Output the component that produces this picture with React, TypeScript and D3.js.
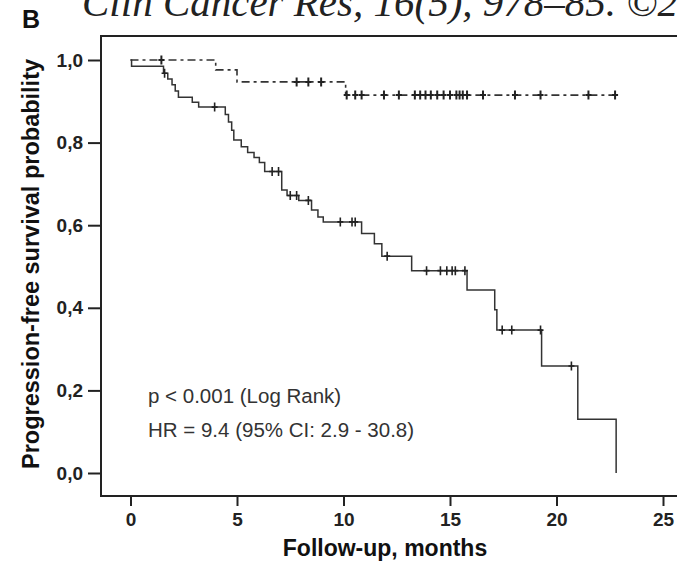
import React, { useRef, useEffect } from "react";
import * as d3 from "d3";

// survival steps (months, probability after the step)
const solidTimes = [0.05, 1.55, 1.75, 1.95, 2.1, 2.25, 2.9, 3.2, 4.45, 4.6, 4.75, 4.85, 5.2, 5.5, 5.8, 6.05, 6.3, 7.1, 7.35, 7.9, 8.5, 8.8, 9.05, 10.85, 11.45, 11.8, 13.2, 15.8, 17.1, 17.2, 19.3, 21.0, 22.8];
const solidSurv = [0.985, 0.968, 0.954, 0.94, 0.925, 0.91, 0.898, 0.886, 0.868, 0.85, 0.83, 0.806, 0.79, 0.776, 0.764, 0.752, 0.73, 0.685, 0.672, 0.66, 0.637, 0.62, 0.608, 0.58, 0.555, 0.525, 0.49, 0.443, 0.395, 0.346, 0.259, 0.13, 0.0];
const solidCensor = [1.6, 3.95, 6.65, 6.95, 7.5, 7.8, 8.35, 9.85, 10.4, 10.55, 12.05, 13.9, 14.55, 14.85, 15.1, 15.25, 15.7, 17.45, 17.9, 19.25, 20.7];

const dashedTimes = [4.0, 5.0, 10.1];
const dashedSurv = [0.976, 0.947, 0.915];
const dashedCensor = [1.45, 7.8, 8.35, 8.95, 10.15, 10.55, 10.85, 11.9, 12.6, 13.35, 13.6, 13.85, 14.1, 14.4, 14.7, 15.0, 15.3, 15.45, 15.6, 15.8, 16.55, 18.05, 19.25, 21.5, 22.75];

const xTicks = [0, 5, 10, 15, 20, 25];
const yTicks = [0, 0.2, 0.4, 0.6, 0.8, 1.0];

const survAt = (times: number[], surv: number[], t: number) => {
  let s = 1;
  times.forEach((tt, i) => {
    if (tt <= t) s = surv[i];
  });
  return s;
};

const App = () => {
  const svgRef = useRef<SVGSVGElement>(null);

  useEffect(() => {
    const svg = d3.select(svgRef.current);
    svg.selectAll("*").remove();

    const width = 677;
    const height = 565;
    const frame = { left: 101, top: 36, bottom: 496, right: 700 };

    const x = d3.scaleLinear().domain([0, 25]).range([130.5, 663]);
    const y = d3.scaleLinear().domain([0, 1]).range([473, 60]);

    svg.append("rect").attr("width", width).attr("height", height).attr("fill", "#fff");

    // header
    svg
      .append("text")
      .attr("x", 82)
      .attr("y", 16)
      .attr("font-family", "'Liberation Serif', serif")
      .attr("font-style", "italic")
      .attr("font-size", 41)
      .attr("fill", "#222")
      .text("Clin Cancer Res, 16(5), 978–85. ©2010");

    svg
      .append("text")
      .attr("x", 22)
      .attr("y", 28)
      .attr("font-family", "'Liberation Sans', Arial, sans-serif")
      .attr("font-weight", "bold")
      .attr("font-size", 25)
      .attr("fill", "#111")
      .text("B");

    // frame
    svg
      .append("path")
      .attr("d", `M${frame.right},${frame.top}H${frame.left}V${frame.bottom}H${frame.right}`)
      .attr("fill", "none")
      .attr("stroke", "#222")
      .attr("stroke-width", 2);

    const fmt = d3.format(".1f");

    const gy = svg
      .append("g")
      .attr("transform", `translate(${frame.left},0)`)
      .call(
        d3
          .axisLeft(y)
          .tickValues(yTicks)
          .tickSize(13)
          .tickPadding(5)
          .tickFormat((d) => fmt(d as number).replace(".", ","))
      );
    gy.select(".domain").remove();

    const gx = svg
      .append("g")
      .attr("transform", `translate(0,${frame.bottom})`)
      .call(d3.axisBottom(x).tickValues(xTicks).tickSize(10).tickPadding(7));
    gx.select(".domain").remove();

    [gx, gy].forEach((g) => {
      g.selectAll("line").attr("stroke", "#222").attr("stroke-width", 2);
      g.selectAll("text")
        .attr("font-family", "'Liberation Sans', Arial, sans-serif")
        .attr("font-weight", "bold")
        .attr("font-size", 19)
        .attr("fill", "#222");
    });

    svg
      .append("text")
      .attr("x", 385)
      .attr("y", 556)
      .attr("text-anchor", "middle")
      .attr("font-family", "'Liberation Sans', Arial, sans-serif")
      .attr("font-weight", "bold")
      .attr("font-size", 23)
      .attr("fill", "#111")
      .text("Follow-up, months");

    svg
      .append("text")
      .attr("transform", "translate(39,264) rotate(-90)")
      .attr("text-anchor", "middle")
      .attr("font-family", "'Liberation Sans', Arial, sans-serif")
      .attr("font-weight", "bold")
      .attr("font-size", 23.5)
      .attr("fill", "#111")
      .text("Progression-free survival probability");

    // curves
    const line = d3
      .line<[number, number]>()
      .x((d) => x(d[0]))
      .y((d) => y(d[1]))
      .curve(d3.curveStepAfter);

    const solidPts: [number, number][] = [[0, 1], ...solidTimes.map((t, i) => [t, solidSurv[i]] as [number, number])];
    const dashedEnd = d3.max(dashedCensor) as number;
    const dashedPts: [number, number][] = [
      [0, 1],
      ...dashedTimes.map((t, i) => [t, dashedSurv[i]] as [number, number]),
      [dashedEnd, dashedSurv[dashedSurv.length - 1]],
    ];

    svg
      .append("path")
      .attr("d", line(solidPts))
      .attr("fill", "none")
      .attr("stroke", "#333")
      .attr("stroke-width", 1.5);

    svg
      .append("path")
      .attr("d", line(dashedPts))
      .attr("fill", "none")
      .attr("stroke", "#333")
      .attr("stroke-width", 1.6)
      .attr("stroke-dasharray", "8,4,3,4");

    const censorPath = (times: number[], surv: number[], cens: number[]) =>
      cens
        .map((t) => {
          const cx = x(t);
          const cy = y(survAt(times, surv, t));
          return `M${cx},${cy - 4.5}v9M${cx - 3},${cy}h6`;
        })
        .join("");

    svg
      .append("path")
      .attr("d", censorPath(solidTimes, solidSurv, solidCensor))
      .attr("fill", "none")
      .attr("stroke", "#222")
      .attr("stroke-width", 1.6);

    svg
      .append("path")
      .attr("d", censorPath(dashedTimes, dashedSurv, dashedCensor))
      .attr("fill", "none")
      .attr("stroke", "#222")
      .attr("stroke-width", 2);

    // annotation
    const note = svg
      .append("g")
      .attr("font-family", "'Liberation Sans', Arial, sans-serif")
      .attr("font-size", 20.5)
      .attr("fill", "#333");
    note.append("text").attr("x", 148).attr("y", 403).text("p < 0.001 (Log Rank)");
    note.append("text").attr("x", 148).attr("y", 437).text("HR = 9.4 (95% CI: 2.9 - 30.8)");
  }, []);

  return (
    <svg
      ref={svgRef}
      width={677}
      height={565}
      style={{ position: "absolute", left: 0, top: 0, display: "block" }}
    />
  );
};

export default App;
